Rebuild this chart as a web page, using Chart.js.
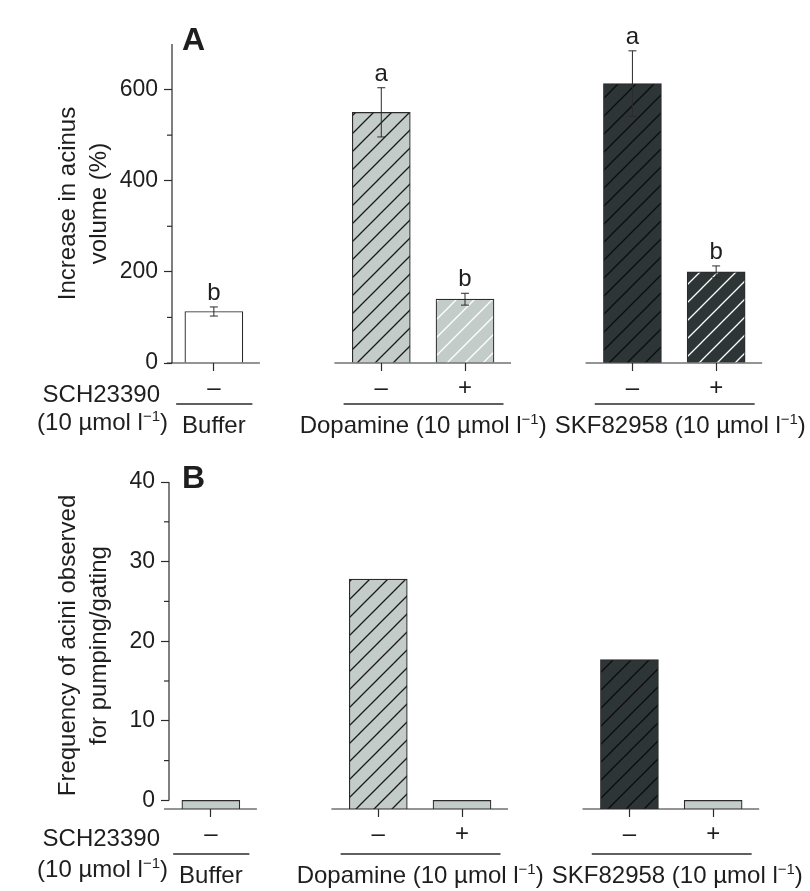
<!DOCTYPE html>
<html>
<head>
<meta charset="utf-8">
<script src="https://cdn.jsdelivr.net/npm/chart.js@4.4.1/dist/chart.umd.min.js"></script>
<style>
  html, body { margin: 0; padding: 0; background: #fff; }
  #wrap { position: relative; width: 810px; height: 891px; }
  canvas { position: absolute; left: 0; display: block; }
</style>
</head>
<body>
<div id="wrap">
  <canvas id="volChart" width="810" height="445" style="top:0"></canvas>
  <canvas id="freqChart" width="810" height="446" style="top:445px"></canvas>
</div>
<script>
  // slots along the x axis ('' = empty gap between treatment groups)
  const schLabels = ['–', '', '–', '+', '', '–', '+'];
  const slotGroup = [0, null, 1, 1, null, 2, 2];
  const groupNames = ['Buffer', 'Dopamine', 'SKF82958'];
  const groupHasDose = [false, true, true];

  // panel A: increase in acinus volume (%)
  const volumeMean = [113, null, 550, 140, null, 613, 200];
  const volumeErr = [10, null, 54, 13, null, 72, 13];
  const volumeLetters = ['b', '', 'a', 'b', '', 'a', 'b'];
  const volumeTicks = [0, 200, 400, 600];
  const volumeMinor = [100, 300, 500];

  // panel B: frequency of acini observed for pumping/gating
  const pumpFreq = [0, null, 27.8, 0, null, 17.7, 0];
  const freqTicks = [0, 10, 20, 30, 40];
  const freqMinor = [5, 15, 25, 35];

  const FONT = "'Liberation Sans', Arial, Helvetica, sans-serif";
  const FS = 24;      // labels and titles
  const TFS = 23;     // numeric tick labels
  const INK = '#2b2b2b';
  const LIGHT = '#c4ccc9';
  const DARK = '#2d3536';

  Chart.defaults.font.family = FONT;
  Chart.defaults.color = '#1e1e1e';

  function hatch(bg, fg) {
    const c = document.createElement('canvas');
    c.width = c.height = 18;
    const g = c.getContext('2d');
    g.fillStyle = bg;
    g.fillRect(0, 0, 18, 18);
    g.strokeStyle = fg;
    g.lineWidth = 1.3;
    g.beginPath();
    g.moveTo(0, 18); g.lineTo(18, 0);
    g.moveTo(-9, 9); g.lineTo(9, -9);
    g.moveTo(9, 27); g.lineTo(27, 9);
    g.stroke();
    return g.createPattern(c, 'repeat');
  }

  const fillsA = ['#ffffff', null, hatch(LIGHT, '#1a1a1a'), hatch(LIGHT, '#ffffff'), null, hatch(DARK, '#0c0c0c'), hatch(DARK, '#ffffff')];
  const fillsB = [LIGHT, null, hatch(LIGHT, '#1a1a1a'), LIGHT, null, hatch(DARK, '#0c0c0c'), LIGHT];

  // "(10 µmol l⁻¹)" with a real superscript
  function doseParts() {
    return [
      { t: '(10 µmol l', size: FS, dy: 0 },
      { t: '−1', size: 15, dy: -9 },
      { t: ')', size: FS, dy: 0 }
    ];
  }

  function drawRich(ctx, parts, x, y, align) {
    let w = 0;
    parts.forEach(p => { ctx.font = p.size + 'px ' + FONT; p.w = ctx.measureText(p.t).width; w += p.w; });
    let cx = align === 'right' ? x - w : align === 'center' ? x - w / 2 : x;
    ctx.textAlign = 'left';
    ctx.textBaseline = 'alphabetic';
    parts.forEach(p => {
      ctx.font = p.size + 'px ' + FONT;
      ctx.fillText(p.t, cx, y + p.dy);
      cx += p.w;
    });
  }

  function seg(ctx, x1, y1, x2, y2) {
    ctx.beginPath();
    ctx.moveTo(x1, y1);
    ctx.lineTo(x2, y2);
    ctx.stroke();
  }

  const decor = {
    id: 'decor',
    afterDraw(chart, args, o) {
      const { ctx, chartArea: area, scales: { x, y } } = chart;
      const slot = x.getPixelForValue(1) - x.getPixelForValue(0);
      const bottom = area.bottom;
      ctx.save();
      ctx.strokeStyle = INK;
      ctx.fillStyle = '#1e1e1e';
      ctx.lineWidth = 1.2;

      // y axis line from 0 to top of axis
      seg(ctx, area.left, y.getPixelForValue(o.axisTop), area.left, y.getPixelForValue(0));
      o.minor.forEach(v => {
        const py = y.getPixelForValue(v);
        seg(ctx, area.left - 5, py, area.left, py);
      });

      // baseline pieces, underlines and group names
      groupNames.forEach((name, gi) => {
        const idx = slotGroup.map((g, i) => g === gi ? i : -1).filter(i => i >= 0);
        const xa = x.getPixelForValue(idx[0]);
        const xb = x.getPixelForValue(idx[idx.length - 1]);
        seg(ctx, xa - 0.56 * slot, bottom, xb + 0.55 * slot, bottom);
        ctx.lineWidth = 1.4;
        seg(ctx, xa - 0.45 * slot, bottom + o.lineDy, xb + 0.46 * slot, bottom + o.lineDy);
        ctx.lineWidth = 1.2;
        const parts = groupHasDose[gi] ? [{ t: name + ' ', size: FS, dy: 0 }].concat(doseParts()) : [{ t: name, size: FS, dy: 0 }];
        drawRich(ctx, parts, (xa + xb) / 2 + (gi === 2 ? 6 : 0), bottom + o.groupDy, 'center');
      });

      // error bars and significance letters
      if (o.errors) {
        ctx.lineWidth = 1;
        o.means.forEach((m, i) => {
          if (m === null) return;
          const px = x.getPixelForValue(i);
          const hi = y.getPixelForValue(m + o.errors[i]);
          const lo = y.getPixelForValue(m - o.errors[i]);
          seg(ctx, px, hi, px, lo);
          seg(ctx, px - 4, hi, px + 4, hi);
          seg(ctx, px - 4, lo, px + 4, lo);
          ctx.font = FS + 'px ' + FONT;
          ctx.textAlign = 'center';
          ctx.textBaseline = 'alphabetic';
          ctx.fillText(o.letters[i], px, hi - 7);
        });
      }

      // row labels on the left
      ctx.font = FS + 'px ' + FONT;
      ctx.textAlign = 'right';
      ctx.textBaseline = 'alphabetic';
      ctx.fillText('SCH23390', 160, bottom + o.schDy);
      drawRich(ctx, doseParts(), 168, bottom + o.doseDy, 'right');

      // panel letter
      ctx.font = 'bold 32px ' + FONT;
      ctx.textAlign = 'left';
      ctx.fillText(o.panel, 182, o.panelY);
      ctx.restore();
    }
  };

  function xScale() {
    return {
      type: 'category',
      offset: true,
      grid: {
        offset: false,
        drawOnChartArea: false,
        drawTicks: true,
        tickLength: 8,
        tickWidth: 1.2,
        tickColor: c => schLabels[c.index] ? INK : 'rgba(0,0,0,0)'
      },
      border: { display: false },
      ticks: { font: { size: FS }, color: '#1e1e1e', padding: 3, maxRotation: 0, autoSkip: false },
      afterFit: s => { s.height = 82; }
    };
  }

  function yScale(min, max, ticks, width, title) {
    return {
      min: min,
      max: max,
      border: { display: false },
      grid: { drawOnChartArea: false, drawTicks: true, tickLength: 8, tickWidth: 1.2, tickColor: INK },
      ticks: { font: { size: TFS }, color: '#1e1e1e', padding: 6 },
      afterBuildTicks: s => { s.ticks = ticks.map(v => ({ value: v })); },
      afterFit: s => { s.width = width; },
      title: {
        display: true,
        text: title,
        color: '#1e1e1e',
        font: { size: FS, lineHeight: 31 / FS },
        padding: { top: 52.5, bottom: 0 }
      }
    };
  }

  new Chart(document.getElementById('volChart').getContext('2d'), {
    type: 'bar',
    data: {
      labels: schLabels,
      datasets: [{
        data: volumeMean,
        backgroundColor: fillsA,
        borderColor: INK,
        borderWidth: 1.2,
        barThickness: 58
      }]
    },
    options: {
      responsive: false,
      animation: false,
      devicePixelRatio: 1,
      layout: { padding: { top: 44, right: 52, bottom: 0, left: 0 } },
      scales: {
        x: xScale(),
        y: yScale(0, 700, volumeTicks, 172, ['Increase in acinus', 'volume (%)'])
      },
      plugins: {
        legend: { display: false },
        tooltip: { enabled: false },
        decor: {
          axisTop: 700, minor: volumeMinor, panel: 'A', panelY: 50,
          means: volumeMean, errors: volumeErr, letters: volumeLetters,
          lineDy: 41, groupDy: 70, schDy: 39, doseDy: 67
        }
      }
    },
    plugins: [decor]
  });

  new Chart(document.getElementById('freqChart').getContext('2d'), {
    type: 'bar',
    data: {
      labels: schLabels,
      datasets: [{
        data: pumpFreq,
        base: -1.08,
        backgroundColor: fillsB,
        borderColor: INK,
        borderWidth: 1.2,
        barThickness: 58
      }]
    },
    options: {
      responsive: false,
      animation: false,
      devicePixelRatio: 1,
      layout: { padding: { top: 37, right: 55, bottom: 0, left: 0 } },
      scales: {
        x: xScale(),
        y: yScale(-1.08, 40, freqTicks, 169, ['Frequency of acini observed', 'for pumping/gating'])
      },
      plugins: {
        legend: { display: false },
        tooltip: { enabled: false },
        decor: {
          axisTop: 40, minor: freqMinor, panel: 'B', panelY: 43,
          lineDy: 45, groupDy: 74, schDy: 37, doseDy: 68
        }
      }
    },
    plugins: [decor]
  });
</script>
</body>
</html>
